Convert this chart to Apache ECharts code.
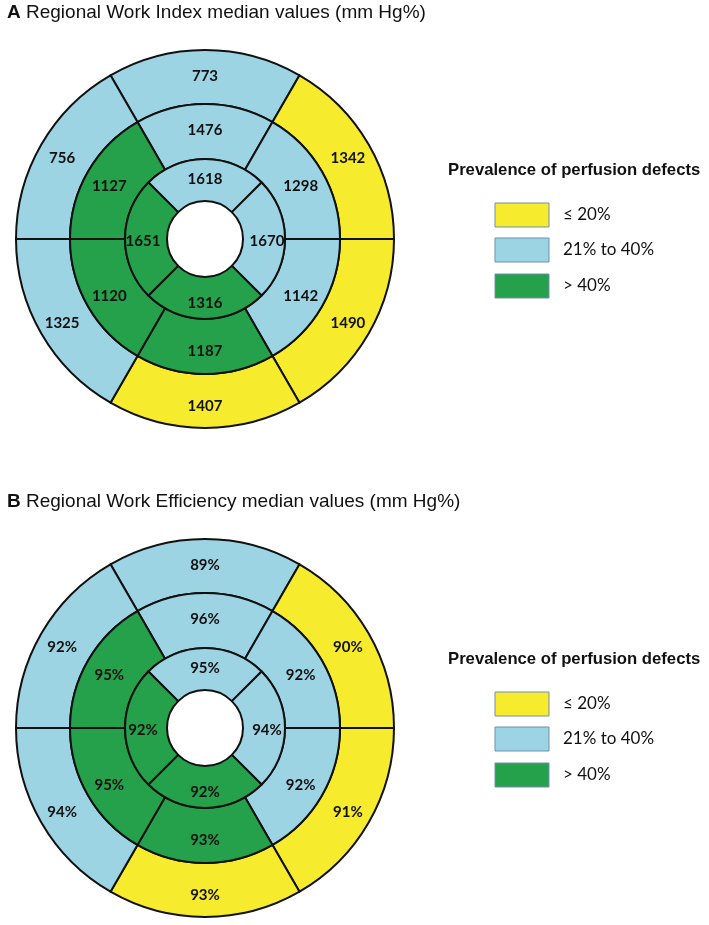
<!DOCTYPE html>
<html>
<head>
<meta charset="utf-8">
<script src="https://cdn.jsdelivr.net/npm/echarts@6/dist/echarts.min.js"></script>
<style>
  html, body { margin: 0; padding: 0; background: #ffffff; }
  #chart { width: 709px; height: 925px; }
</style>
</head>
<body>
<div id="chart"></div>
<script>
// Segment order for 6-segment rings: top, upper-right, lower-right, bottom, lower-left, upper-left
// Segment order for 4-segment ring: top, right, bottom, left
const workIndexOuter = [773, 1342, 1490, 1407, 1325, 756];
const workIndexMiddle = [1476, 1298, 1142, 1187, 1120, 1127];
const workIndexInner = [1618, 1670, 1316, 1651];

const workEffOuter = [89, 90, 91, 93, 94, 92];
const workEffMiddle = [96, 92, 92, 93, 95, 95];
const workEffInner = [95, 94, 92, 92];

// prevalence class: 0 = <=20%, 1 = 21% to 40%, 2 = >40%
const prevalenceOuter = [1, 0, 0, 0, 1, 1];
const prevalenceMiddle = [1, 1, 1, 2, 2, 2];
const prevalenceInner = [1, 1, 2, 2];

const legendLabels = ['\u2264 20%', '21% to 40%', '> 40%'];
const legendTitle = 'Prevalence of perfusion defects';
const titleA = ['A', 'Regional Work Index median values (mm Hg%)'];
const titleB = ['B', 'Regional Work Efficiency median values (mm Hg%)'];

const classColors = ['#F6EB2D', '#9DD4E4', '#25A04B'];

const chart = echarts.init(document.getElementById('chart'), null, { renderer: 'canvas' });

const radii = [38, 80, 135, 189];
const cx = 205;
const centersY = [239, 728];

function ring(values, classes, r0, r1, start, cy, suffix) {
  return {
    type: 'pie',
    silent: true,
    animation: false,
    center: [cx, cy],
    radius: [r0, r1],
    startAngle: start,
    clockwise: true,
    avoidLabelOverlap: false,
    emphasis: { disabled: true },
    label: {
      show: true,
      position: 'inside',
      formatter: '{b}',
      fontFamily: 'Lato',
      fontWeight: 'bold',
      fontSize: 15,
      color: '#111111',
      offset: [0, 2]
    },
    labelLine: { show: false },
    itemStyle: { borderColor: '#111111', borderWidth: 2 },
    data: values.map((v, i) => ({
      value: 1,
      name: v + suffix,
      itemStyle: { color: classColors[classes[i]] }
    }))
  };
}

const series = [];
[[workIndexOuter, workIndexMiddle, workIndexInner, ''],
 [workEffOuter, workEffMiddle, workEffInner, '%']].forEach((set, k) => {
  const cy = centersY[k];
  series.push(ring(set[0], prevalenceOuter, radii[2], radii[3], 120, cy, set[3]));
  series.push(ring(set[1], prevalenceMiddle, radii[1], radii[2], 120, cy, set[3]));
  series.push(ring(set[2], prevalenceInner, radii[0], radii[1], 135, cy, set[3]));
});

function legendGraphics(offsetY) {
  const els = [];
  els.push({
    type: 'text',
    left: 448,
    top: 172 + offsetY - 10,
    style: {
      text: legendTitle,
      font: 'bold 16.7px "Liberation Sans", Arial, sans-serif',
      fill: '#111111'
    }
  });
  legendLabels.forEach((lab, i) => {
    const yc = [215, 250, 286][i] + offsetY;
    els.push({
      type: 'rect',
      shape: { x: 495, y: yc - 12, width: 54, height: 24 },
      style: { fill: classColors[i], stroke: '#6F8FB3', lineWidth: 1 }
    });
    els.push({
      type: 'text',
      x: 563,
      y: yc,
      style: {
        text: lab,
        font: '17px Lato, sans-serif',
        fill: '#111111',
        textVerticalAlign: 'middle'
      }
    });
  });
  return els;
}

function makeTitle(parts, top) {
  return {
    text: '{b|' + parts[0] + '} ' + parts[1],
    left: 2,
    top: top,
    textStyle: {
      fontFamily: '"Liberation Sans", Arial, sans-serif',
      fontSize: 19,
      fontWeight: 'normal',
      color: '#111111',
      rich: {
        b: { fontFamily: '"Liberation Sans", Arial, sans-serif', fontSize: 19, fontWeight: 'bold', color: '#111111' }
      }
    }
  };
}

chart.setOption({
  backgroundColor: '#ffffff',
  animation: false,
  title: [makeTitle(titleA, -2), makeTitle(titleB, 487)],
  graphic: legendGraphics(0).concat(legendGraphics(489)),
  series: series
});
</script>
</body>
</html>
